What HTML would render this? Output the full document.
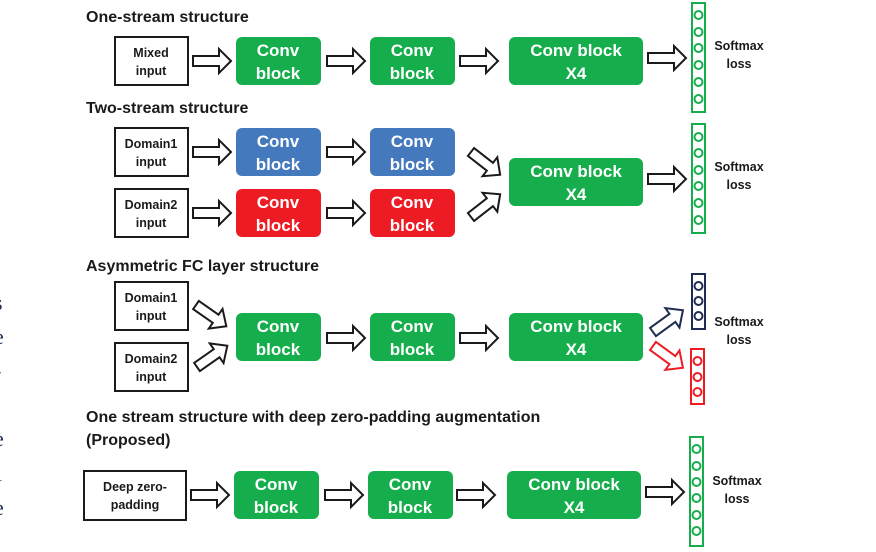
<!DOCTYPE html>
<html><head><meta charset="utf-8"><style>
html,body{margin:0;padding:0;background:#fff;width:876px;height:552px;overflow:hidden}
svg{display:block}
text{font-family:"Liberation Sans",sans-serif;font-weight:bold}
.t{font-size:16px;fill:#1a1a1a}
.i{font-size:12.5px;fill:#1a1a1a;text-anchor:middle}
.c{font-size:17px;fill:#fff;text-anchor:middle}
.s{font-size:12.5px;fill:#1a1a1a;text-anchor:middle}
.ib{fill:#fff;stroke:#1a1a1a;stroke-width:2}
.ar{fill:#fff;stroke:#1a1a1a;stroke-width:2;stroke-linejoin:miter}
.sv{font-family:"Liberation Serif",serif;font-weight:normal;font-size:22px;fill:#1f2d52}
</style></head><body>
<svg width="876" height="552" viewBox="0 0 876 552" xmlns="http://www.w3.org/2000/svg">
<defs>
<polygon id="a" points="0,-5 26,-5 26,-12 38,0 26,12 26,5 0,5"/>
<polygon id="d" points="0,-5 24,-5 24,-12 37,0 24,12 24,5 0,5"/>
</defs>
<text class="sv" x="-6" y="276">t</text>
<text class="sv" x="-6" y="310">s</text>
<text class="sv" x="-6" y="344">e</text>
<text class="sv" x="-6" y="378">-</text>
<text class="sv" x="-4" y="412">.</text>
<text class="sv" x="-6" y="446">e</text>
<text class="sv" x="-4" y="481">l</text>
<text class="sv" x="-6" y="515">e</text>

<!-- Row 1 -->
<text class="t" x="86" y="22">One-stream structure</text>
<rect class="ib" x="115" y="37" width="73" height="48"/>
<text class="i" x="151" y="57">Mixed</text><text class="i" x="151" y="75">input</text>
<use href="#a" class="ar" x="193" y="61"/>
<rect x="236" y="37" width="85" height="48" rx="6" fill="#16ae4c"/>
<text class="c" x="278" y="56">Conv</text><text class="c" x="278" y="79">block</text>
<use href="#a" class="ar" x="327" y="61"/>
<rect x="370" y="37" width="85" height="48" rx="6" fill="#16ae4c"/>
<text class="c" x="412" y="56">Conv</text><text class="c" x="412" y="79">block</text>
<use href="#a" class="ar" x="460" y="61"/>
<rect x="509" y="37" width="134" height="48" rx="6" fill="#16ae4c"/>
<text class="c" x="576" y="56">Conv block</text><text class="c" x="576" y="79">X4</text>
<use href="#a" class="ar" x="648" y="58"/>
<g fill="none" stroke="#16ae4c" stroke-width="2">
<rect x="692" y="3" width="13" height="109"/>
<circle cx="698.5" cy="15" r="4"/><circle cx="698.5" cy="32" r="4"/><circle cx="698.5" cy="48" r="4"/>
<circle cx="698.5" cy="65" r="4"/><circle cx="698.5" cy="82" r="4"/><circle cx="698.5" cy="99" r="4"/>
</g>
<text class="s" x="739" y="50">Softmax</text><text class="s" x="739" y="68">loss</text>

<!-- Row 2 -->
<text class="t" x="86" y="113">Two-stream structure</text>
<rect class="ib" x="115" y="128" width="73" height="48"/>
<text class="i" x="151" y="148">Domain1</text><text class="i" x="151" y="166">input</text>
<use href="#a" class="ar" x="193" y="152"/>
<rect x="236" y="128" width="85" height="48" rx="6" fill="#4479bd"/>
<text class="c" x="278" y="147">Conv</text><text class="c" x="278" y="170">block</text>
<use href="#a" class="ar" x="327" y="152"/>
<rect x="370" y="128" width="85" height="48" rx="6" fill="#4479bd"/>
<text class="c" x="412" y="147">Conv</text><text class="c" x="412" y="170">block</text>
<rect class="ib" x="115" y="189" width="73" height="48"/>
<text class="i" x="151" y="209">Domain2</text><text class="i" x="151" y="227">input</text>
<use href="#a" class="ar" x="193" y="213"/>
<rect x="236" y="189" width="85" height="48" rx="6" fill="#ed1c24"/>
<text class="c" x="278" y="208">Conv</text><text class="c" x="278" y="231">block</text>
<use href="#a" class="ar" x="327" y="213"/>
<rect x="370" y="189" width="85" height="48" rx="6" fill="#ed1c24"/>
<text class="c" x="412" y="208">Conv</text><text class="c" x="412" y="231">block</text>
<use href="#d" class="ar" transform="translate(471,152) rotate(38)"/>
<use href="#d" class="ar" transform="translate(471,217) rotate(-38)"/>
<rect x="509" y="158" width="134" height="48" rx="6" fill="#16ae4c"/>
<text class="c" x="576" y="177">Conv block</text><text class="c" x="576" y="200">X4</text>
<use href="#a" class="ar" x="648" y="179"/>
<g fill="none" stroke="#16ae4c" stroke-width="2">
<rect x="692" y="124" width="13" height="109"/>
<circle cx="698.5" cy="137" r="4"/><circle cx="698.5" cy="153" r="4"/><circle cx="698.5" cy="170" r="4"/>
<circle cx="698.5" cy="186" r="4"/><circle cx="698.5" cy="203" r="4"/><circle cx="698.5" cy="220" r="4"/>
</g>
<text class="s" x="739" y="171">Softmax</text><text class="s" x="739" y="189">loss</text>

<!-- Row 3 -->
<text class="t" x="86" y="271">Asymmetric FC layer structure</text>
<rect class="ib" x="115" y="282" width="73" height="48"/>
<text class="i" x="151" y="302">Domain1</text><text class="i" x="151" y="320">input</text>
<rect class="ib" x="115" y="343" width="73" height="48"/>
<text class="i" x="151" y="363">Domain2</text><text class="i" x="151" y="381">input</text>
<use href="#d" class="ar" transform="translate(196,305) rotate(35)"/>
<use href="#d" class="ar" transform="translate(197,367) rotate(-35)"/>
<rect x="236" y="313" width="85" height="48" rx="6" fill="#16ae4c"/>
<text class="c" x="278" y="332">Conv</text><text class="c" x="278" y="355">block</text>
<use href="#a" class="ar" x="327" y="338"/>
<rect x="370" y="313" width="85" height="48" rx="6" fill="#16ae4c"/>
<text class="c" x="412" y="332">Conv</text><text class="c" x="412" y="355">block</text>
<use href="#a" class="ar" x="460" y="338"/>
<rect x="509" y="313" width="134" height="48" rx="6" fill="#16ae4c"/>
<text class="c" x="576" y="332">Conv block</text><text class="c" x="576" y="355">X4</text>
<use href="#d" class="ar" style="stroke:#1f2d52" transform="translate(653,332) rotate(-36)"/>
<use href="#d" class="ar" style="stroke:#ed1c24" transform="translate(653,346) rotate(36)"/>
<g fill="none" stroke="#1f2d52" stroke-width="2">
<rect x="692" y="274" width="13" height="55"/>
<circle cx="698.5" cy="286" r="4"/><circle cx="698.5" cy="301" r="4"/><circle cx="698.5" cy="316" r="4"/>
</g>
<g fill="none" stroke="#ed1c24" stroke-width="2">
<rect x="691" y="349" width="13" height="55"/>
<circle cx="697.5" cy="361" r="4"/><circle cx="697.5" cy="377" r="4"/><circle cx="697.5" cy="392" r="4"/>
</g>
<text class="s" x="739" y="326">Softmax</text><text class="s" x="739" y="344">loss</text>

<!-- Row 4 -->
<text class="t" x="86" y="422">One stream structure with deep zero-padding augmentation</text>
<text class="t" x="86" y="445">(Proposed)</text>
<rect class="ib" x="84" y="471" width="102" height="49"/>
<text class="i" x="135" y="491">Deep zero-</text><text class="i" x="135" y="509">padding</text>
<use href="#a" class="ar" x="191" y="495"/>
<rect x="234" y="471" width="85" height="48" rx="6" fill="#16ae4c"/>
<text class="c" x="276" y="490">Conv</text><text class="c" x="276" y="513">block</text>
<use href="#a" class="ar" x="325" y="495"/>
<rect x="368" y="471" width="85" height="48" rx="6" fill="#16ae4c"/>
<text class="c" x="410" y="490">Conv</text><text class="c" x="410" y="513">block</text>
<use href="#a" class="ar" x="457" y="495"/>
<rect x="507" y="471" width="134" height="48" rx="6" fill="#16ae4c"/>
<text class="c" x="574" y="490">Conv block</text><text class="c" x="574" y="513">X4</text>
<use href="#a" class="ar" x="646" y="492"/>
<g fill="none" stroke="#16ae4c" stroke-width="2">
<rect x="690" y="437" width="13" height="109"/>
<circle cx="696.5" cy="449" r="4"/><circle cx="696.5" cy="466" r="4"/><circle cx="696.5" cy="482" r="4"/>
<circle cx="696.5" cy="498" r="4"/><circle cx="696.5" cy="515" r="4"/><circle cx="696.5" cy="531" r="4"/>
</g>
<text class="s" x="737" y="485">Softmax</text><text class="s" x="737" y="503">loss</text>
</svg>
</body></html>
